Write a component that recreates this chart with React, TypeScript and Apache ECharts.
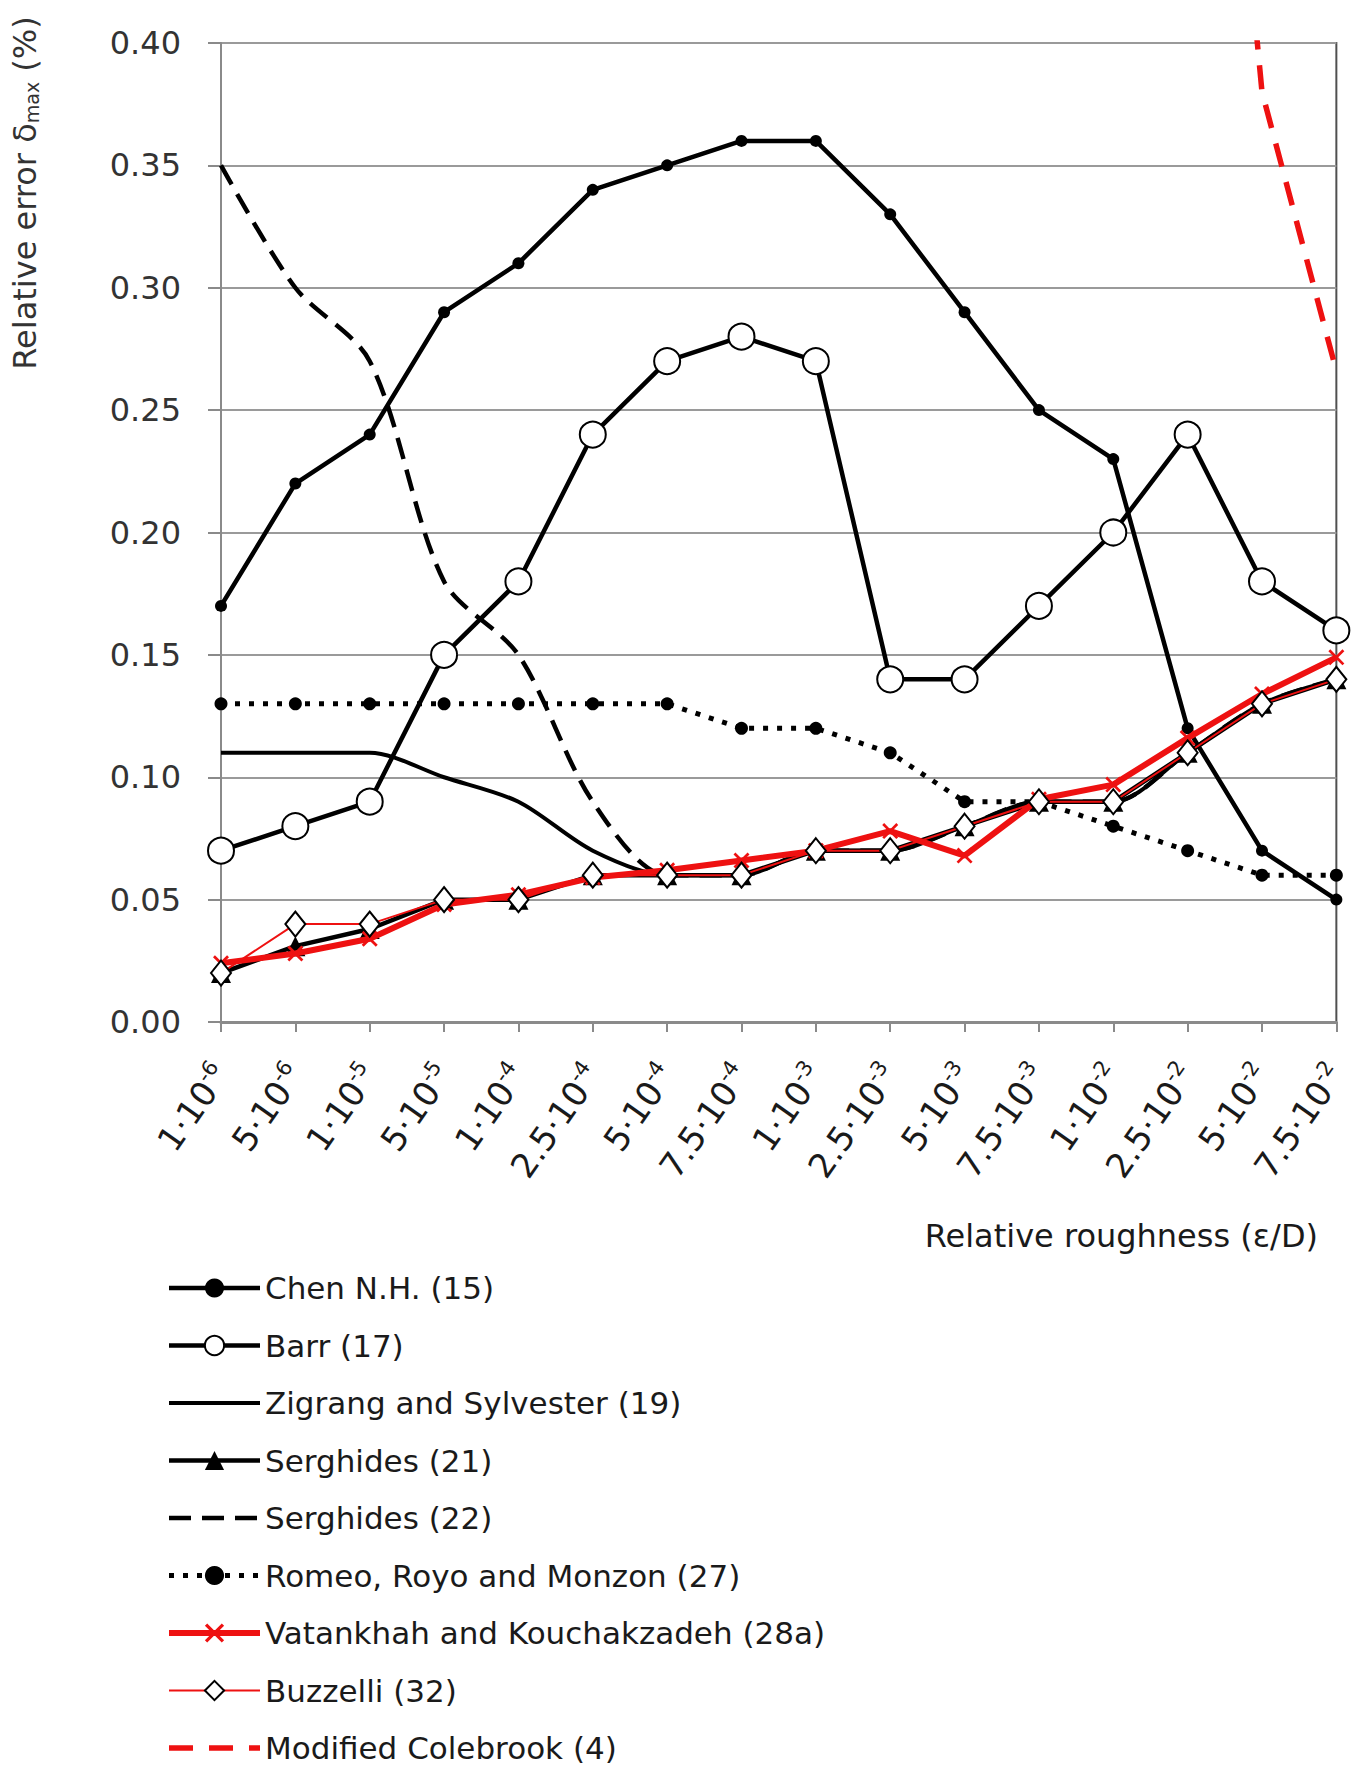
import React, { useEffect, useRef } from 'react';
import * as echarts from 'echarts';

const categories = ['1·10^-6', '5·10^-6', '1·10^-5', '5·10^-5', '1·10^-4', '2.5·10^-4', '5·10^-4', '7.5·10^-4', '1·10^-3', '2.5·10^-3', '5·10^-3', '7.5·10^-3', '1·10^-2', '2.5·10^-2', '5·10^-2', '7.5·10^-2'];

const chenNH = [0.17, 0.22, 0.24, 0.29, 0.31, 0.34, 0.35, 0.36, 0.36, 0.33, 0.29, 0.25, 0.23, 0.12, 0.07, 0.05];
const barr = [0.07, 0.08, 0.09, 0.15, 0.18, 0.24, 0.27, 0.28, 0.27, 0.14, 0.14, 0.17, 0.20, 0.24, 0.18, 0.16];
const zigrang = [0.11, 0.11, 0.11, 0.10, 0.09, 0.07, 0.06, 0.06, 0.07, 0.07, 0.08, 0.09, 0.09, 0.11, 0.13, 0.14];
const serghides21 = [0.02, 0.031, 0.038, 0.05, 0.05, 0.06, 0.06, 0.06, 0.07, 0.07, 0.08, 0.09, 0.09, 0.11, 0.13, 0.14];
const serghides22 = [0.35, 0.30, 0.27, 0.18, 0.15, 0.09, 0.06, 0.06, 0.07, 0.07, 0.08, 0.09, 0.09, 0.11, 0.13, 0.14];
const romeo = [0.13, 0.13, 0.13, 0.13, 0.13, 0.13, 0.13, 0.12, 0.12, 0.11, 0.09, 0.09, 0.08, 0.07, 0.06, 0.06];
const vatankhah = [0.024, 0.028, 0.034, 0.048, 0.052, 0.059, 0.062, 0.066, 0.07, 0.078, 0.068, 0.091, 0.097, 0.116, 0.134, 0.149];
const buzzelli = [0.02, 0.04, 0.04, 0.05, 0.05, 0.06, 0.06, 0.06, 0.07, 0.07, 0.08, 0.09, 0.09, 0.11, 0.13, 0.14];
const colebrook = [null, null, null, null, null, null, null, null, null, null, null, null, null, 0.70, 0.38, 0.266];

const seriesNames = ['Chen N.H. (15)', 'Barr (17)', 'Zigrang and Sylvester (19)', 'Serghides (21)', 'Serghides (22)', 'Romeo, Royo and Monzon (27)', 'Vatankhah and Kouchakzadeh (28a)', 'Buzzelli (32)', 'Modified Colebrook (4)'];

const FONT = 'DejaVu Sans';
const RED = '#ee1111';
const X_SYMBOL = 'path://M0,1.2L1.2,0L5,3.8L8.8,0L10,1.2L6.2,5L10,8.8L8.8,10L5,6.2L1.2,10L0,8.8L3.8,5Z';

export default function App() {
  const ref = useRef<HTMLDivElement>(null);
  useEffect(() => {
    if (!ref.current) return;
    const chart = echarts.init(ref.current, null, { renderer: 'svg' });
    const noSym = { symbol: 'circle', showSymbol: false, itemStyle: { color: 'rgba(0,0,0,0)' } };
    chart.setOption({
      animation: false,
      backgroundColor: '#fff',
      textStyle: { fontFamily: FONT },
      grid: { left: 221, right: 15, top: 43, height: 979, show: true, borderColor: '#505050', borderWidth: 2, containLabel: false },
      xAxis: {
        type: 'category',
        data: categories,
        boundaryGap: false,
        axisLine: { show: true, lineStyle: { color: '#8a8a8a', width: 3 } },
        axisTick: { show: true, length: 10, inside: false, alignWithLabel: true, interval: 0, lineStyle: { color: '#8a8a8a', width: 2 } },
        splitLine: { show: false },
        axisLabel: {
          interval: 0,
          rotate: 55,
          margin: 46,
          color: '#1a1a1a',
          fontFamily: FONT,
          fontSize: 34,
          formatter: (v: string) => v.replace(/\^(.*)$/, '{s|$1}'),
          rich: { s: { fontSize: 21, fontFamily: FONT, color: '#1a1a1a', verticalAlign: 'top', padding: [0, 0, 18, 0] } },
        },
      },
      yAxis: {
        type: 'value',
        min: 0,
        max: 0.4,
        interval: 0.05,
        axisLine: { show: true, lineStyle: { color: '#8a8a8a', width: 2 } },
        axisTick: { show: true, length: 13, inside: false, lineStyle: { color: '#8a8a8a', width: 2 } },
        splitLine: { show: true, lineStyle: { color: '#9a9a9a', width: 2 } },
        axisLabel: { margin: 40, color: '#333', fontFamily: FONT, fontSize: 32, formatter: (v: number) => v.toFixed(2) },
      },
      legend: {
        orient: 'vertical',
        left: 166,
        top: 1270,
        padding: 0,
        itemWidth: 91,
        itemHeight: 24,
        itemGap: 21.5,
        selectedMode: false,
        data: seriesNames,
        lineStyle: { width: 'inherit' },
        textStyle: { fontSize: 31, lineHeight: 36, color: '#1a1a1a', fontFamily: FONT },
      },
      graphic: [
        {
          type: 'text',
          x: 25,
          y: 193,
          rotation: Math.PI / 2,
          style: {
            text: 'Relative error δ{s|max} (%)',
            fontSize: 32,
            fontFamily: FONT,
            fill: '#333',
            align: 'center',
            verticalAlign: 'middle',
            rich: { s: { fontSize: 19, fontFamily: FONT, fill: '#333', verticalAlign: 'bottom', padding: [12, 0, 0, 0] } },
          },
        },
        {
          type: 'text',
          x: 1318,
          y: 1236,
          style: { text: 'Relative roughness (ε/D)', fontSize: 32, fontFamily: FONT, fill: '#1a1a1a', align: 'right', verticalAlign: 'middle' },
        },
      ],
      series: [
        {
          name: seriesNames[0], type: 'line', data: chenNH, symbol: 'circle', symbolSize: 12,
          lineStyle: { color: '#000', width: 4.5 }, itemStyle: { color: '#000' }, z: 2,
        },
        {
          name: seriesNames[1], type: 'line', data: barr, symbol: 'emptyCircle', symbolSize: 26,
          lineStyle: { color: '#000', width: 4.5 }, itemStyle: { color: '#000', borderWidth: 2.5 }, z: 3,
        },
        {
          name: seriesNames[2], type: 'line', data: zigrang, ...noSym, smooth: 0.3,
          lineStyle: { color: '#000', width: 4 }, z: 4,
        },
        {
          name: seriesNames[3], type: 'line', data: serghides21, symbol: 'triangle', symbolSize: 20,
          lineStyle: { color: '#000', width: 4.5 }, itemStyle: { color: '#000' }, z: 5,
        },
        {
          name: seriesNames[4], type: 'line', data: serghides22, ...noSym, smooth: 0.3,
          lineStyle: { color: '#000', width: 4.5, type: [22, 11] }, z: 6,
        },
        {
          name: seriesNames[5], type: 'line', data: romeo, symbol: 'circle', symbolSize: 13,
          lineStyle: { color: '#000', width: 5, type: [5, 9] }, itemStyle: { color: '#000' }, z: 7,
        },
        {
          name: seriesNames[6], type: 'line', data: vatankhah, symbol: X_SYMBOL, symbolSize: 16,
          lineStyle: { color: RED, width: 6 }, itemStyle: { color: RED }, z: 8,
        },
        {
          name: seriesNames[7], type: 'line', data: buzzelli, symbol: 'emptyDiamond', symbolSize: [20, 25],
          lineStyle: { color: RED, width: 2 }, itemStyle: { color: '#000', borderWidth: 2 }, z: 9,
        },
        {
          name: seriesNames[8], type: 'line', data: colebrook, ...noSym, connectNulls: false,
          lineStyle: { color: RED, width: 5.5, type: [24, 16] }, z: 10,
        },
      ],
    });
    return () => chart.dispose();
  }, []);
  return <div ref={ref} style={{ position: 'absolute', left: 0, top: 0, width: 1352, height: 1769 }} />;
}
